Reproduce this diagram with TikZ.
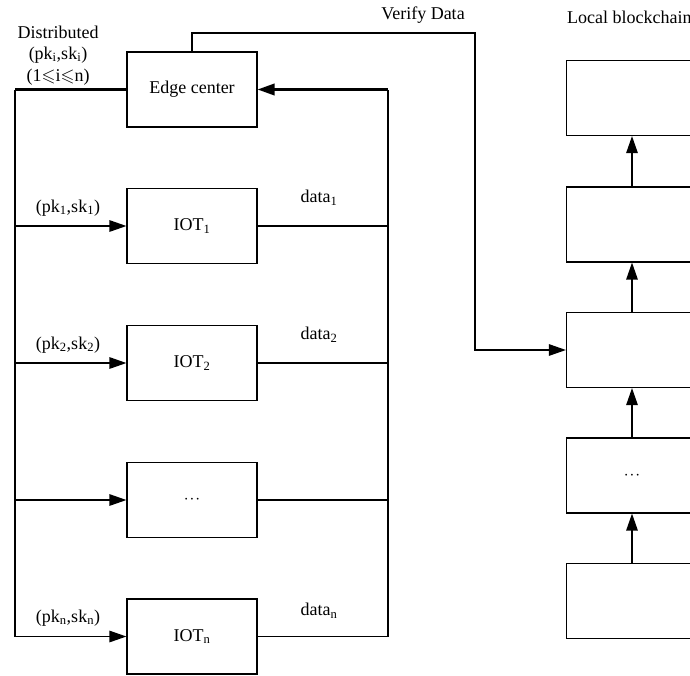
\documentclass[tikz,border=0pt]{standalone}
\usepackage{amssymb}
\usepackage{fontspec}
\setmainfont{Liberation Serif}
\usetikzlibrary{arrows.meta}
\begin{document}
\begin{tikzpicture}[x=1pt,y=-1pt,
  every node/.style={font=\fontsize{18}{21}\selectfont},
  box/.style={draw, line width=1.2pt, minimum width=130pt, minimum height=75pt, inner sep=0pt},
  chainbox/.style={draw, line width=1.2pt, minimum width=131pt, minimum height=75pt, inner sep=0pt},
  wire/.style={line width=1.3pt},
  busline/.style={line width=1.7pt},
  arr/.style={-{Triangle[length=17pt,width=11.5pt]}},
  lbl/.style={inner sep=0pt}]
\clip (0,0) rectangle (690,675);

% edge center and IoT devices
\node[box] (edge) at (192,89.5) {Edge center};
\node[box] (iot1) at (192,226) {IOT\textsubscript{1}};
\node[box] (iot2) at (192,363) {IOT\textsubscript{2}};
\node[box] (iotd) at (192,500) {$\cdot\!\cdot\!\cdot$};
\node[box] (iotn) at (192,636.5) {IOT\textsubscript{n}};

% local blockchain
\node[chainbox] (b1) at (632,98) {};
\node[chainbox] (b2) at (632,224.5) {};
\node[chainbox] (b3) at (632,350) {};
\node[chainbox] (b4) at (632,475.5) {$\cdot\!\cdot\!\cdot$};
\node[chainbox] (b5) at (632,601) {};

% bus corners
\coordinate (lt) at (15,89.5);
\coordinate (l1) at (15,226);
\coordinate (l2) at (15,363);
\coordinate (ld) at (15,500);
\coordinate (ln) at (15,636.5);
\coordinate (rt) at (388,89.5);
\coordinate (r1) at (388,226);
\coordinate (r2) at (388,363);
\coordinate (rd) at (388,500);
\coordinate (rn) at (388,636.5);
\coordinate (v1) at (192,33);
\coordinate (v2) at (475,33);
\coordinate (v3) at (475,350);

% key distribution bus
\draw[line width=2.2pt] (edge.west) -- (lt);
\draw[busline] (lt) -- (ln);
\draw[wire,arr] (l1) -- (iot1.west);
\draw[wire,arr] (l2) -- (iot2.west);
\draw[wire,arr] (ld) -- (iotd.west);
\draw[wire,arr] (ln) -- (iotn.west);

% data return bus
\draw[wire] (iot1.east) -- (r1);
\draw[wire] (iot2.east) -- (r2);
\draw[wire] (iotd.east) -- (rd);
\draw[wire] (iotn.east) -- (rn);
\draw[busline] (rn) -- (rt);
\draw[line width=2.2pt,arr] (rt) -- (edge.east);

% verification path to the chain
\draw[wire,arr] (edge.north) -- (v1) -- (v2) -- (v3) -- (b3.west);

% chain links
\draw[wire,arr] (b5.north) -- (b4.south);
\draw[wire,arr] (b4.north) -- (b3.south);
\draw[wire,arr] (b3.north) -- (b2.south);
\draw[wire,arr] (b2.north) -- (b1.south);

% labels
\node[lbl] (t1) at (58,32) {Distributed};
\node[lbl] (t2) at (58,55) {(pk\textsubscript{i},sk\textsubscript{i})};
\node[lbl] (t3) at (58,77) {(1$\leqslant$i$\leqslant$n)};
\node[lbl] (k1) at (68,208) {(pk\textsubscript{1},sk\textsubscript{1})};
\node[lbl] (k2) at (68,345) {(pk\textsubscript{2},sk\textsubscript{2})};
\node[lbl] (kn) at (68,618) {(pk\textsubscript{n},sk\textsubscript{n})};
\node[lbl] (d1) at (319,198) {data\textsubscript{1}};
\node[lbl] (d2) at (319,335) {data\textsubscript{2}};
\node[lbl] (dn) at (319,611) {data\textsubscript{n}};
\node[lbl] (vd) at (423,15) {Verify Data};
\node[lbl,anchor=west] (lb) at (567,17) {Local blockchain};
\end{tikzpicture}
\end{document}
